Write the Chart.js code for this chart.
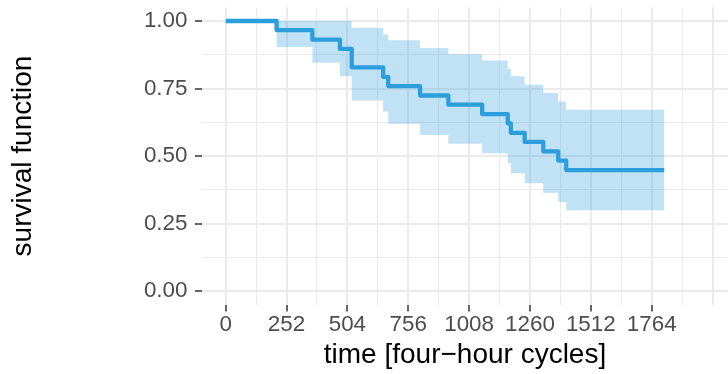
<!DOCTYPE html>
<html><head><meta charset="utf-8">
<script src="https://cdn.jsdelivr.net/npm/chart.js@4"></script>
<style>html,body{margin:0;padding:0;background:#fff}canvas{display:block}</style>
</head><body>
<canvas id="c" width="728" height="374"></canvas>
<script>
// ---- data ----
const times    = [0, 211, 359, 473, 522, 652, 673, 805, 922, 1062, 1168, 1181, 1238, 1315, 1377, 1410, 1816];
const survival = [1, 0.966, 0.931, 0.897, 0.828, 0.793, 0.759, 0.724, 0.690, 0.655, 0.621, 0.586, 0.552, 0.517, 0.483, 0.448, 0.448];
const upperCI  = [1, 1, 1, 1, 0.975, 0.950, 0.929, 0.900, 0.877, 0.854, 0.822, 0.795, 0.764, 0.733, 0.702, 0.671, 0.671];
const lowerCI  = [1, 0.904, 0.845, 0.795, 0.706, 0.665, 0.619, 0.578, 0.545, 0.510, 0.473, 0.436, 0.399, 0.364, 0.330, 0.299, 0.299];
const xTickValues = [0, 252, 504, 756, 1008, 1260, 1512, 1764];
const xTickLabels = ['0', '252', '504', '756', '1008', '1260', '1512', '1764'];
const xExtraGrid  = [2016];
const yTickValues = [0, 0.25, 0.5, 0.75, 1];
const yTickLabels = ['0.00', '0.25', '0.50', '0.75', '1.00'];
const xTitle = 'time [four\u2212hour cycles]';
const yTitle = 'survival function';

// ---- styling ----
const LINE = 'rgb(45,158,220)';
const BAND = 'rgba(45,158,220,0.3)';
const GRID = '#EBEBEB';
const FONT = "'Liberation Sans', Arial, Helvetica, sans-serif";

function pts(xs, ys) { return xs.map((x, i) => ({x: x, y: ys[i]})); }
function withMinors(majors) {
  const out = [];
  for (let i = 0; i < majors.length; i++) {
    out.push({v: majors[i], major: true});
    if (i < majors.length - 1) out.push({v: (majors[i] + majors[i + 1]) / 2, major: false});
  }
  return out;
}
const xGridAll = withMinors(xTickValues.concat(xExtraGrid));
const yGridAll = withMinors(yTickValues);

function labelFor(vals, labels, v) {
  const i = vals.findIndex(t => Math.abs(t - v) < 1e-9);
  return i >= 0 ? labels[i] : '';
}
function isMajor(list, v) {
  const t = list.find(o => Math.abs(o.v - v) < 1e-9);
  return t ? t.major : false;
}

new Chart(document.getElementById('c'), {
  type: 'line',
  data: {
    datasets: [
      {data: pts(times, survival), stepped: true, borderColor: LINE, borderWidth: 4.3,
       borderJoinStyle: 'round', borderCapStyle: 'butt', pointRadius: 0, fill: false},
      {data: pts(times, upperCI), stepped: true, borderColor: 'rgba(0,0,0,0)', borderWidth: 1,
       pointRadius: 0, fill: '+1', backgroundColor: BAND},
      {data: pts(times, lowerCI), stepped: true, borderColor: 'rgba(0,0,0,0)', borderWidth: 1,
       pointRadius: 0, fill: false}
    ]
  },
  options: {
    responsive: false, animation: false, events: [],
    layout: {padding: {top: 7.5, left: 0, right: 0, bottom: 0}},
    plugins: {legend: {display: false}, tooltip: {enabled: false}},
    scales: {
      x: {
        type: 'linear', min: -98, max: 2080,
        afterBuildTicks: s => { s.ticks = xGridAll.map(o => ({value: o.v})); },
        afterFit: s => { s.height = 69.5; s.paddingLeft = 0; s.paddingRight = 0; },
        border: {display: false},
        grid: {
          color: GRID,
          lineWidth: c => (c.tick && isMajor(xGridAll, c.tick.value)) ? 2 : 1.1,
          tickLength: 7, tickWidth: 1.5,
          tickColor: c => (c.tick && labelFor(xTickValues, xTickLabels, c.tick.value) !== '') ? '#333333' : 'rgba(0,0,0,0)'
        },
        ticks: {
          autoSkip: false, maxRotation: 0, minRotation: 0, padding: 2.5,
          color: '#4D4D4D', font: {family: FONT, size: 22.4, lineHeight: 1},
          callback: (v, i, ticks) => labelFor(xTickValues, xTickLabels, ticks[i].value)
        },
        title: {display: true, text: xTitle, color: '#000000',
                font: {family: FONT, size: 28, lineHeight: 1}, padding: {top: 0, bottom: 4.7}}
      },
      y: {
        type: 'linear', min: -0.05, max: 1.05,
        afterBuildTicks: s => { s.ticks = yGridAll.map(o => ({value: o.v})); },
        afterFit: s => { s.width = 202; s.paddingTop = 0; s.paddingBottom = 0; },
        border: {display: false},
        grid: {
          color: GRID,
          lineWidth: c => (c.tick && isMajor(yGridAll, c.tick.value)) ? 2 : 1.1,
          tickLength: 7, tickWidth: 1.5,
          tickColor: c => (c.tick && labelFor(yTickValues, yTickLabels, c.tick.value) !== '') ? '#333333' : 'rgba(0,0,0,0)'
        },
        ticks: {
          autoSkip: false, padding: 7.5,
          color: '#4D4D4D', font: {family: FONT, size: 22.4, lineHeight: 1},
          callback: (v, i, ticks) => labelFor(yTickValues, yTickLabels, ticks[i].value)
        },
        title: {display: true, text: yTitle, color: '#000000',
                font: {family: FONT, size: 28, lineHeight: 1}, padding: {top: 9, bottom: 0}}
      }
    }
  }
});
</script>
</body></html>
